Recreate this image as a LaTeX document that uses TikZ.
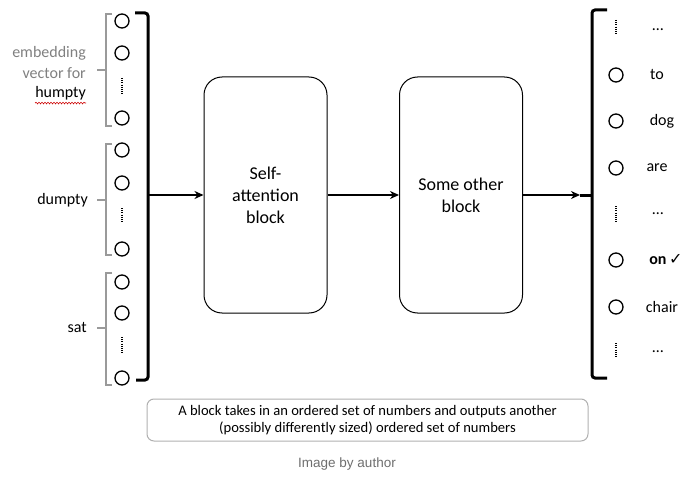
\documentclass[tikz,border=0pt]{standalone}
\usepackage{fontspec}
\setmainfont{Carlito}
\newfontfamily\arialfont{Liberation Sans}
\newfontfamily\symfont{DejaVu Sans}
\usetikzlibrary{arrows.meta,decorations.pathmorphing}
\definecolor{lblgray}{HTML}{808080}
\definecolor{brgray}{HTML}{9A9A9A}
\definecolor{boxgray}{HTML}{B0B0B0}
\definecolor{capgray}{HTML}{6E6E6E}
\begin{document}
\begin{tikzpicture}[x=1pt,y=-1pt,
  unit/.style={circle,draw=black,line width=1.3pt,minimum size=14pt,inner sep=0pt},
  vdot/.style={line width=1.3pt,dash pattern=on 1pt off 1.2pt},
  smallbr/.style={draw=brgray,line width=1.1pt},
  bigbr/.style={draw=black,line width=3pt,rounded corners=3pt},
  blockbox/.style={draw=black,line width=1pt,rounded corners=18pt,minimum width=123pt,minimum height=236pt,align=center,font=\fontsize{18}{22}\selectfont},
  lbl/.style={font=\fontsize{16}{19.5}\selectfont,inner sep=0pt},
  flow/.style={line width=2.7pt,-{Stealth[length=9pt,width=8pt]}},
  notebox/.style={draw=boxgray,line width=1pt,rounded corners=7pt,minimum width=441pt,minimum height=42pt,align=center,font=\fontsize{14.6}{17.5}\selectfont}
]
\useasboundingbox (0,0) rectangle (696,484);

% ---- left input vectors ----
\foreach \n/\y in {a1/21,a2/53,a4/118,b1/150,b2/183,b4/249,c1/282,c2/313,c4/378}
  \node[unit] (\n) at (122,\y) {};
\draw[vdot] (122,78) -- (122,94);
\draw[vdot] (122,208) -- (122,223);
\draw[vdot] (122,337) -- (122,353);

% small grey braces
\draw[smallbr] (112,14) -- (106,14) -- (106,126) -- (112,126);
\draw[smallbr] (97,70) -- (106,70);
\draw[smallbr] (112,144) -- (106,144) -- (106,255) -- (112,255);
\draw[smallbr] (97,200) -- (106,200);
\draw[smallbr] (112,273) -- (106,273) -- (106,385) -- (112,385);
\draw[smallbr] (97,328) -- (106,328);

% labels
\node[lbl,anchor=east,text=lblgray] (lemb) at (86,53) {embedding};
\node[lbl,anchor=east,text=lblgray] (lvec) at (86,73) {vector for};
\node[lbl,anchor=east] (lhum) at (86,93) {humpty};
\draw[red!80!black,line width=0.6pt,decorate,decoration={snake,amplitude=0.8pt,segment length=3pt}]
  ([yshift=-3pt]lhum.south west) -- ([yshift=-3pt]lhum.south east);
\node[lbl,anchor=east] (ldum) at (88,200) {dumpty};
\node[lbl,anchor=east] (lsat) at (87,327) {sat};

% big left bracket
\draw[bigbr] (135,13) -- (148,13) -- (148,380) -- (136,380);
\coordinate (lbr) at (148,195);

% ---- blocks ----
\node[blockbox] (sa) at (265.5,195) {Self-\\attention\\block};
\node[blockbox] (so) at (461,195) {Some other\\block};

% ---- right output ----
\draw[bigbr] (607,10) -- (592,10) -- (592,378) -- (607,378);
\coordinate (rbr) at (592,195);
\coordinate (rtip) at (580,195);

\foreach \n/\y in {r2/75,r3/121,r4/168,r6/260,r7/307}
  \node[unit] (\n) at (616,\y) {};
\draw[vdot] (616,20) -- (616,35);
\draw[vdot] (616,206) -- (616,222);
\draw[vdot] (616,343) -- (616,358);

\node[lbl] (t1) at (658,30) {\dots};
\node[lbl] (t2) at (657,75) {to};
\node[lbl] (t3) at (662,121) {dog};
\node[lbl] (t4) at (657,168) {are};
\node[lbl] (t5) at (658,214) {\dots};
\node[lbl] (t6) at (666,260) {\textbf{on}\,{\symfont\fontsize{16}{18}\selectfont ✓}};
\node[lbl] (t7) at (662,307) {chair};
\node[lbl] (t8) at (658,352) {\dots};

% ---- connectors ----
\draw[flow] (lbr) -- (sa.west |- lbr);
\draw[flow] (sa.east) -- (so.west);
\draw[flow] (so.east) -- (rtip);
\draw[line width=3pt] (rtip) -- (rbr);

% ---- note ----
\node[notebox] (note) at (367.5,420) {A block takes in an ordered set of numbers and outputs another\\(possibly differently sized) ordered set of numbers};
\node[font=\arialfont\fontsize{13.5}{16}\selectfont,text=capgray] (cap) at (347,464) {Image by author};
\end{tikzpicture}
\end{document}
